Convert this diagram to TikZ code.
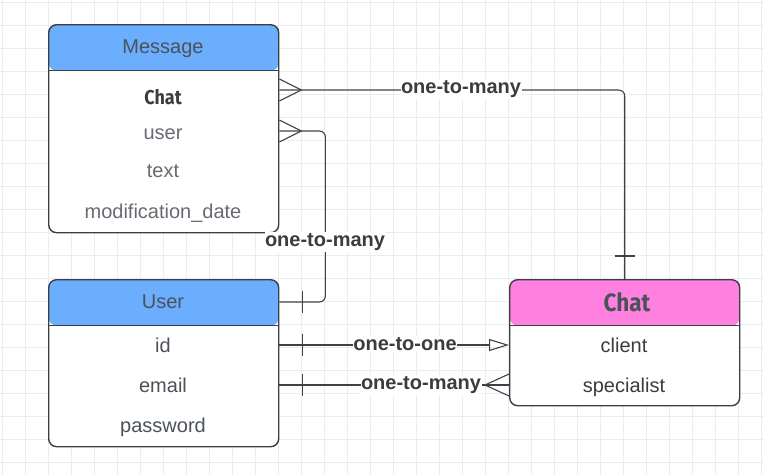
\documentclass[tikz,border=0pt]{standalone}
\usepackage{fontspec}
\setmainfont{Liberation Sans}
\newfontfamily\clefont{Fira Sans}[FakeStretch=0.9]
\usetikzlibrary{positioning, arrows.meta}
\definecolor{cbleu}{RGB}{107,174,253}
\definecolor{crose}{RGB}{255,128,223}
\definecolor{cbord}{RGB}{58,63,70}
\definecolor{clien}{RGB}{62,66,72}
\definecolor{ctitre}{RGB}{76,82,90}
\definecolor{cchamp}{RGB}{103,107,114}
\definecolor{cfonce}{RGB}{58,60,64}
\definecolor{cgrille}{RGB}{236,236,236}

\begin{document}
\begin{tikzpicture}[x=1pt, y=-1pt,
  entite/.style={draw=cbord, line width=1.4pt, rounded corners=8pt, fill=white,
                 minimum width=230pt, inner sep=0pt, anchor=north west},
  entete/.style={path picture={
      \fill[#1] (path picture bounding box.north west)
                rectangle ([yshift=-46pt]path picture bounding box.north east);
      \draw[cbord, line width=1.4pt] ([yshift=-46pt]path picture bounding box.north west)
                -- ([yshift=-46pt]path picture bounding box.north east);}},
  titre/.style={font=\fontsize{20}{24}\selectfont, text=ctitre, anchor=base},
  champ/.style={font=\fontsize{20}{24}\selectfont, text=cchamp, anchor=base},
  cle/.style={font=\clefont\bfseries\fontsize{20}{24}\selectfont, text=cfonce, anchor=base},
  lien/.style={draw=clien, line width=1.1pt},
  etiq/.style={font=\bfseries\fontsize{20}{24}\selectfont, text=cfonce, fill=white,
               inner xsep=0.5pt, inner ysep=1pt}]
  \useasboundingbox (0,0) rectangle (764,475);

  % --- quadrillage de fond ----------------------------------------------
  \foreach \i in {0,...,33}
    \draw[cgrille, line width=1.2pt] ({2.7+23*\i},0) -- ({2.7+23*\i},475);
  \foreach \j in {0,...,20}
    \draw[cgrille, line width=1.2pt] (0,{2.7+23*\j}) -- (764,{2.7+23*\j});

  % --- entites ----------------------------------------------------------
  \node[entite, entete=cbleu, minimum height=208pt] (msg) at (48,24) {};
  \node[entite, entete=cbleu, minimum height=167pt] (usr) at (48,279) {};
  \node[entite, entete=crose, minimum height=126pt] (chat) at (509,279) {};

  % --- textes de Message ------------------------------------------------
  \node[titre] (msgTitre) at (163,53) {Message};
  \node[cle] (msgChat) at (163,104) {Chat};
  \node[champ] (msgUser) at (163,139) {user};
  \node[champ] (msgText) at (163,177) {text};
  \node[champ] (msgDate) at (163,218) {modification\_date};

  % --- textes de User ---------------------------------------------------
  \node[titre] (usrTitre) at (163,308) {User};
  \node[champ, text=ctitre] (usrId) at (163,352) {id};
  \node[champ, text=ctitre] (usrMail) at (163,392) {email};
  \node[champ, text=ctitre] (usrPass) at (163,432) {password};

  % --- textes de Chat ---------------------------------------------------
  \node[cle, font=\clefont\bfseries\fontsize{25}{30}\selectfont, text=ctitre]
       (chatTitre) at (627,311) {Chat};
  \node[champ, text=cfonce] (chatCli) at (624,352) {client};
  \node[champ, text=cfonce] (chatSpe) at (624,392) {specialist};

  % --- points d'accroche ------------------------------------------------
  \coordinate (pMsgChat) at (msg.east |- 0,90);
  \coordinate (pMsgUser) at (msg.east |- 0,131);
  \coordinate (pUsrHead) at (usr.east |- 0,302);
  \coordinate (pUsrId)   at (usr.east |- 0,345);
  \coordinate (pUsrMail) at (usr.east |- 0,385);
  \coordinate (pChatCli) at (chat.west |- 0,345);
  \coordinate (pChatSpe) at (chat.west |- 0,385);

  % --- Message.Chat -> Chat ---------------------------------------------
  \draw[lien, rounded corners=6pt] (pMsgChat) -| (chat.north);
  \draw[lien] ([yshift=11pt]pMsgChat) -- ([xshift=22pt]pMsgChat)
              -- ([yshift=-11pt]pMsgChat);
  \draw[lien] ([xshift=-10pt,yshift=23pt]chat.north) -- ([xshift=10pt,yshift=23pt]chat.north);
  \node[etiq] (e1) at (461,89) {one-to-many};

  % --- Message.user -> User ---------------------------------------------
  \draw[lien, rounded corners=6pt] (pMsgUser) -- ++(46,0) |- (pUsrHead);
  \draw[lien] ([yshift=11pt]pMsgUser) -- ([xshift=22pt]pMsgUser)
              -- ([yshift=-11pt]pMsgUser);
  \draw[lien] ([xshift=23pt,yshift=11pt]pUsrHead) -- ([xshift=23pt,yshift=-11pt]pUsrHead);
  \node[etiq] (e2) at (325,242) {one-to-many};

  % --- User.id -> Chat.client -------------------------------------------
  \draw[lien, -{Triangle[open, length=20pt, width=12pt]}] (pUsrId) -- (pChatCli);
  \draw[lien] ([xshift=23pt,yshift=11pt]pUsrId) -- ([xshift=23pt,yshift=-11pt]pUsrId);
  \node[etiq] (e3) at (405,344) {one-to-one};

  % --- User.email -> Chat.specialist ------------------------------------
  \draw[lien] (pUsrMail) -- (pChatSpe);
  \draw[lien] ([yshift=11pt]pChatSpe) -- ([xshift=-24pt]pChatSpe)
              -- ([yshift=-11pt]pChatSpe);
  \draw[lien] ([xshift=23pt,yshift=11pt]pUsrMail) -- ([xshift=23pt,yshift=-11pt]pUsrMail);
  \node[etiq] (e4) at (421,385) {one-to-many};
\end{tikzpicture}
\end{document}
